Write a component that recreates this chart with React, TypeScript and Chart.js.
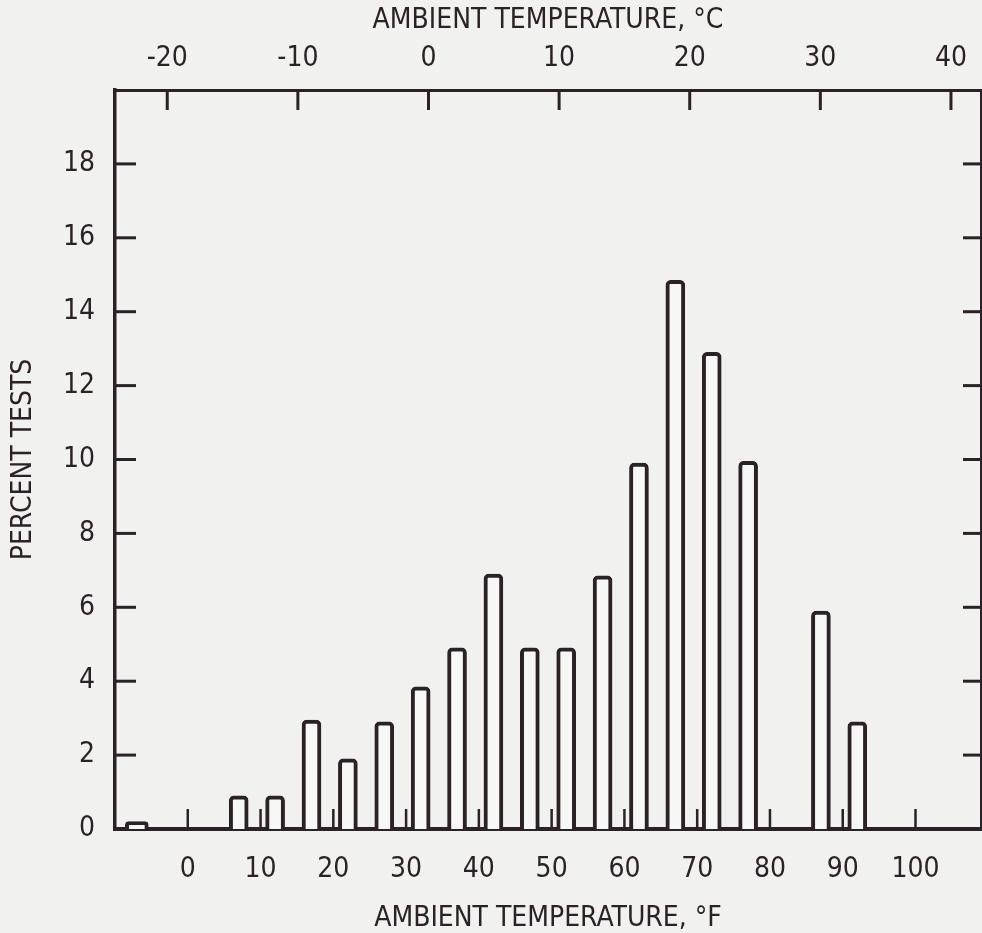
import React, { useEffect, useRef } from 'react';
import { Chart, registerables } from 'chart.js';

Chart.register(...registerables);

// Histogram bins (bin centres in °F) and percent of tests
const binCentersF = [7, 12, 17, 22, 27, 32, 37, 42, 47, 52, 57, 62, 67, 72, 77, 87, 92];
const percentTests = [0.9, 0.9, 2.95, 1.9, 2.9, 3.85, 4.9, 6.9, 4.9, 4.9, 6.85, 9.9, 14.85, 12.9, 9.95, 5.9, 2.9];
const belowZeroCentersF = [-7];
const belowZeroPercent = [0.2];

// Axis ticks
const fTicks = [0, 10, 20, 30, 40, 50, 60, 70, 80, 90, 100];
const cTicks = [-20, -10, 0, 10, 20, 30, 40];
const yTicks = [0, 2, 4, 6, 8, 10, 12, 14, 16, 18];

const INK = '#2a2226';
const BG = '#f1f1ef';
const FAMILY = "'Liberation Sans Narrow', 'DejaVu Sans Condensed', 'Liberation Sans', sans-serif";
const labelFont = { family: FAMILY, size: 28, lineHeight: 1, weight: 'normal' };

const inwardTicks = {
  id: 'inwardTicks',
  afterDatasetsDraw(chart: any) {
    const { ctx, chartArea: a, scales } = chart;
    ctx.save();
    ctx.strokeStyle = INK;
    ctx.lineCap = 'butt';
    // bottom °F ticks
    ctx.lineWidth = 2.5;
    fTicks.forEach((v) => {
      const px = scales.x.getPixelForValue(v);
      ctx.beginPath();
      ctx.moveTo(px, a.bottom);
      ctx.lineTo(px, a.bottom - 20);
      ctx.stroke();
    });
    // top °C ticks
    ctx.lineWidth = 3;
    cTicks.forEach((v) => {
      const px = scales.xTop.getPixelForValue(v);
      ctx.beginPath();
      ctx.moveTo(px, a.top);
      ctx.lineTo(px, a.top + 20);
      ctx.stroke();
    });
    // left ticks
    yTicks.filter((v) => v !== 0).forEach((v) => {
      const py = scales.y.getPixelForValue(v);
      ctx.beginPath();
      ctx.moveTo(a.left, py);
      ctx.lineTo(a.left + 21, py);
      ctx.stroke();
    });
    // right ticks
    yTicks.filter((v) => v !== 0).forEach((v) => {
      const py = scales.yRight.getPixelForValue(v);
      ctx.beginPath();
      ctx.moveTo(a.right, py);
      ctx.lineTo(a.right - 18, py);
      ctx.stroke();
    });
    ctx.restore();
  },
};

export default function App() {
  const ref = useRef<HTMLCanvasElement | null>(null);

  useEffect(() => {
    if (!ref.current) return;
    const barStyle = {
      backgroundColor: '#f7f7f5',
      borderColor: INK,
      borderWidth: 4,
      borderSkipped: 'bottom' as const,
      borderRadius: { topLeft: 5, topRight: 5, bottomLeft: 0, bottomRight: 0 },
      grouped: false,
      xAxisID: 'x',
      yAxisID: 'y',
    };
    const chart = new Chart(ref.current, {
      type: 'bar',
      data: {
        datasets: [
          {
            ...barStyle,
            label: 'Percent tests',
            barThickness: 19,
            data: binCentersF.map((x, i) => ({ x, y: percentTests[i] })),
          },
          {
            ...barStyle,
            label: 'Below 0 °F',
            barThickness: 23,
            data: belowZeroCentersF.map((x, i) => ({ x, y: belowZeroPercent[i] })),
          },
        ] as any,
      },
      options: {
        animation: false,
        responsive: false,
        devicePixelRatio: 1,
        layout: { padding: 0, autoPadding: false } as any,
        plugins: { legend: { display: false }, tooltip: { enabled: false } },
        scales: {
          x: {
            type: 'linear',
            position: 'bottom',
            min: -10,
            max: 109,
            offset: false,
            z: 1,
            afterBuildTicks: (s: any) => {
              s.ticks = fTicks.map((v) => ({ value: v }));
            },
            afterFit: (s: any) => {
              s.height = 104;
            },
            grid: { display: false, offset: false },
            border: { display: true, color: INK, width: 4 },
            ticks: { padding: 19, font: labelFont, color: INK, maxRotation: 0, autoSkip: false },
            title: {
              display: true,
              text: 'AMBIENT TEMPERATURE, °F',
              font: labelFont,
              color: INK,
              padding: { top: 0, bottom: 0 },
            },
          },
          xTop: {
            type: 'linear',
            position: 'top',
            min: -24,
            max: 42.3,
            offset: false,
            afterBuildTicks: (s: any) => {
              s.ticks = cTicks.map((v) => ({ value: v }));
            },
            afterFit: (s: any) => {
              s.height = 90;
            },
            grid: { display: false, offset: false },
            border: { display: true, color: INK, width: 3 },
            ticks: { padding: 9, font: labelFont, color: INK, maxRotation: 0, autoSkip: false },
            title: {
              display: true,
              text: 'AMBIENT TEMPERATURE, °C',
              font: labelFont,
              color: INK,
              padding: { top: 7, bottom: 0 },
            },
          },
          y: {
            type: 'linear',
            position: 'left',
            min: 0,
            max: 20,
            afterBuildTicks: (s: any) => {
              s.ticks = yTicks.map((v) => ({ value: v }));
            },
            afterFit: (s: any) => {
              s.width = 115;
            },
            grid: { display: false },
            border: { display: true, color: INK, width: 3.5 },
            ticks: { padding: 12, font: labelFont, color: INK, autoSkip: false },
            title: {
              display: true,
              text: 'PERCENT TESTS',
              font: labelFont,
              color: INK,
              padding: { top: 10, bottom: 0 },
            },
          },
          yRight: {
            type: 'linear',
            position: 'right',
            min: 0,
            max: 20,
            afterBuildTicks: (s: any) => {
              s.ticks = yTicks.map((v) => ({ value: v }));
            },
            afterFit: (s: any) => {
              s.width = 1;
            },
            grid: { display: false },
            border: { display: true, color: INK, width: 2 },
            ticks: { display: false },
          },
        },
      } as any,
      plugins: [inwardTicks],
    });
    return () => chart.destroy();
  }, []);

  return (
    <div style={{ position: 'absolute', left: 0, top: 0, width: 982, height: 933, background: BG }}>
      <canvas ref={ref} width={982} height={933} style={{ display: 'block', width: 982, height: 933 }} />
    </div>
  );
}
